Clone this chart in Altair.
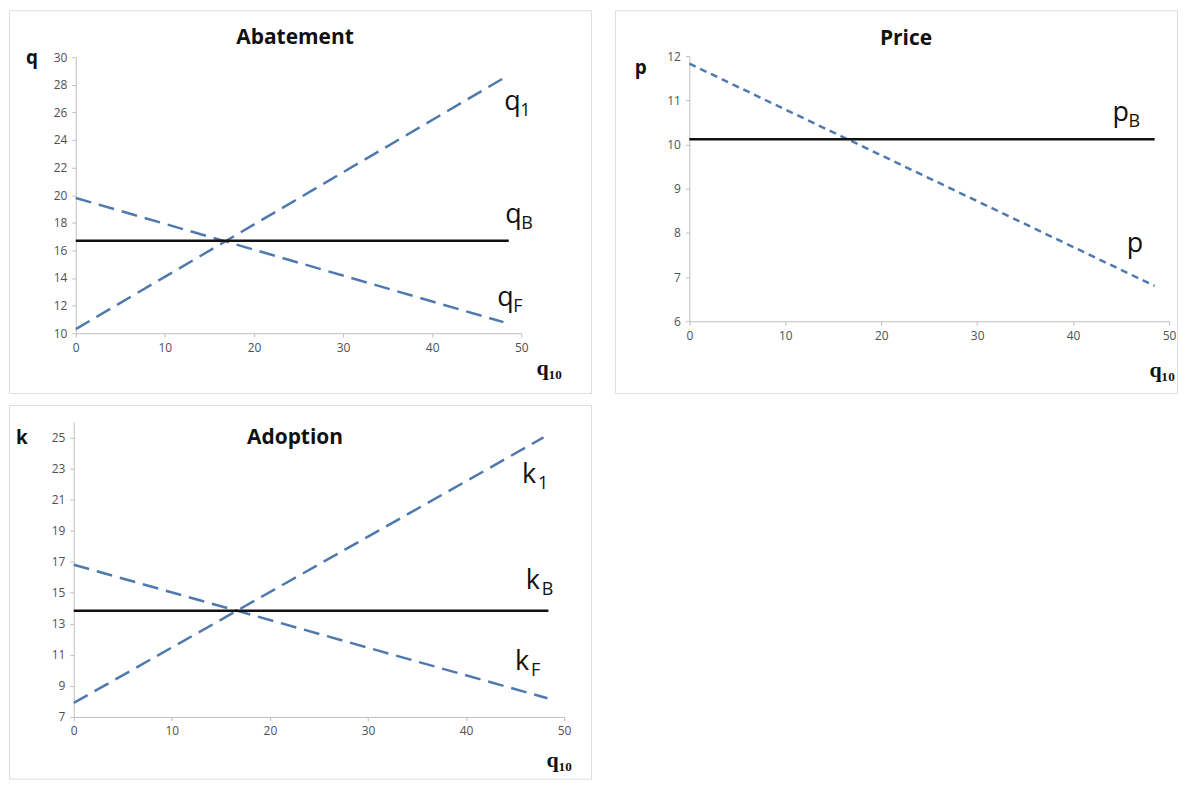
import altair as alt
import pandas as pd

# ---------------- data ----------------
# Abatement panel
ab_series = ["q1", "q1", "qF", "qF"]
ab_x = [0, 48.6, 0, 48.0]
ab_y = [10.3, 28.7, 19.8, 10.8]
ab_base_x = [0, 48.6]
ab_base_y = [16.7, 16.7]
ab_lab_main = ["q", "q", "q"]
ab_lab_sub = ["1", "B", "F"]
ab_lab_x = [48.1, 48.2, 47.3]
ab_lab_y = [26.2, 18.0, 11.95]
ab_yticks = [10, 12, 14, 16, 18, 20, 22, 24, 26, 28, 30]

# Price panel
pr_series = ["p", "p"]
pr_x = [0, 48.5]
pr_y = [11.83, 6.8]
pr_base_x = [0, 48.5]
pr_base_y = [10.12, 10.12]
pr_lab_main = ["p", "p"]
pr_lab_sub = ["B", ""]
pr_lab_x = [44.1, 45.6]
pr_lab_y = [10.53, 7.56]
pr_yticks = [6, 7, 8, 9, 10, 11, 12]

# Adoption panel
ad_series = ["k1", "k1", "kF", "kF"]
ad_x = [0, 47.9, 0, 48.3]
ad_y = [7.9, 25.0, 16.8, 8.2]
ad_base_x = [0, 48.4]
ad_base_y = [13.83, 13.83]
ad_lab_main = ["k", "k", "k"]
ad_lab_sub = ["1", "B", "F"]
ad_lab_x = [45.7, 46.1, 45.0]
ad_lab_y = [22.09, 15.21, 10.0]
ad_yticks = [7, 9, 11, 13, 15, 17, 19, 21, 23, 25]

xticks = [0, 10, 20, 30, 40, 50]

BLUE = "#4f79ad"
TICK_FONT = "Open Sans"
LAB_FONT = "Open Sans"


def panel(title, ylab, W, H, xr, ydom, yr, yticks,
          series, sx, sy, bx, by, lm, ls, lx, ly, dash, pos):
    xs = alt.Scale(domain=[0, 50], range=xr, nice=False, zero=False)
    ys = alt.Scale(domain=ydom, range=yr, nice=False, zero=False)
    xax = alt.Axis(values=xticks, offset=yr[0] - H, title=None, grid=False,
                   domainColor="#bfbfbf", tickColor="#bfbfbf", tickSize=4,
                   labelColor="#505050", labelFont=TICK_FONT, labelFontSize=12,
                   labelFlush=False, labelOverlap=False, labelPadding=5, format="d")
    yax = alt.Axis(values=yticks, offset=-xr[0], title=None, grid=False,
                   domainColor="#bfbfbf", tickColor="#bfbfbf", tickSize=4,
                   labelColor="#505050", labelFont=TICK_FONT, labelFontSize=12,
                   labelOverlap=False, labelPadding=5, format="d")

    X = alt.X("x:Q", scale=xs, axis=xax)
    Y = alt.Y("y:Q", scale=ys, axis=yax)

    dashed = alt.Chart(pd.DataFrame({"s": series, "x": sx, "y": sy})).mark_line(
        color=BLUE, strokeWidth=2.5, strokeDash=dash
    ).encode(x=X, y=Y, detail="s:N")
    base = alt.Chart(pd.DataFrame({"x": bx, "y": by})).mark_line(
        color="#111111", strokeWidth=2.5
    ).encode(x=X, y=Y)

    labs = pd.DataFrame({"m": lm, "s": ls, "x": lx, "y": ly})
    main = alt.Chart(labs).mark_text(
        align="left", baseline="alphabetic", font=LAB_FONT, fontSize=27, color="#111111"
    ).encode(x=X, y=Y, text="m:N")
    sub = alt.Chart(labs).mark_text(
        align="left", baseline="alphabetic", font=LAB_FONT, fontSize=18, color="#111111",
        dx=16, dy=6
    ).encode(x=X, y=Y, text="s:N")

    ttl = alt.Chart(pd.DataFrame({"t": [title]})).mark_text(
        font=LAB_FONT, fontWeight="bold", fontSize=21, color="#111111",
        align="center", baseline="alphabetic"
    ).encode(x=alt.value(pos[0]), y=alt.value(pos[1]), text="t:N")
    yt = alt.Chart(pd.DataFrame({"t": [ylab]})).mark_text(
        font=LAB_FONT, fontWeight="bold", fontSize=19, color="#111111",
        align="center", baseline="alphabetic"
    ).encode(x=alt.value(pos[2]), y=alt.value(pos[3]), text="t:N")
    xt = alt.Chart(pd.DataFrame({"t": ["q₁₀"]})).mark_text(
        font="Liberation Serif", fontWeight="bold", fontSize=22, color="#111111",
        align="center", baseline="alphabetic"
    ).encode(x=alt.value(pos[4]), y=alt.value(pos[5]), text="t:N")

    return alt.layer(dashed, base, main, sub, ttl, yt, xt).properties(width=W, height=H)


# panel A origin (8,8); panel P origin (614,8); panel K origin (8,402)
pa = panel("Abatement", "q", 584, 384, [67, 514], [10, 30], [324, 47], ab_yticks,
           ab_series, ab_x, ab_y, ab_base_x, ab_base_y,
           ab_lab_main, ab_lab_sub, ab_lab_x, ab_lab_y, [16, 8],
           (287, 34, 23, 54, 542, 366))
pp = panel("Price", "p", 564, 384, [74.7, 556], [6, 12], [312, 46], pr_yticks,
           pr_series, pr_x, pr_y, pr_base_x, pr_base_y,
           pr_lab_main, pr_lab_sub, pr_lab_x, pr_lab_y, [7, 5],
           (292, 35, 26, 64, 549, 368))
pk = panel("Adoption", "k", 584, 375, [65, 557], [7, 26], [313, 17], ad_yticks,
           ad_series, ad_x, ad_y, ad_base_x, ad_base_y,
           ad_lab_main, ad_lab_sub, ad_lab_x, ad_lab_y, [16, 8],
           (287, 39, 13, 39, 552, 363))

chart = alt.vconcat(
    alt.hconcat(pa, pp, spacing=22),
    pk,
    spacing=10,
).properties(padding=0).configure_view(
    fill="#f7f7f7", stroke="#a6a6a6", strokeWidth=1
).configure(background="white")

chart.save("out.html", embed_options={"renderer": "svg", "actions": False})
